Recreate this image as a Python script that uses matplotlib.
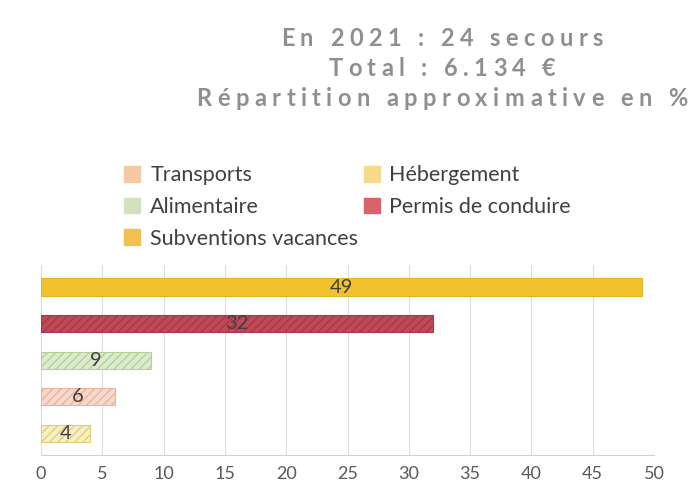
import matplotlib.pyplot as plt
from matplotlib.patches import Patch

# data, bottom bar first
categories = ["Hébergement", "Transports", "Alimentaire", "Permis de conduire", "Subventions vacances"]
values = [4, 6, 9, 32, 49]
colors = ["#f6efc6", "#f7d9cc", "#dcebcd", "#bd4a55", "#f2c12e"]
hatch_colors = ["#e3cf7a", "#eab3a0", "#b5d09a", "#a8394a", "#e6b322"]
hatches = ["////", "////", "////", "////", ""]

legend_order = ["Transports", "Alimentaire", "Subventions vacances", "Hébergement", "Permis de conduire"]
legend_colors = {"Transports": "#f5c9a4", "Hébergement": "#f7d98a", "Alimentaire": "#cfe3bd",
                 "Permis de conduire": "#d9636b", "Subventions vacances": "#f0c050"}

title_lines = ["En 2021 : 24 secours", "Total : 6.134 €", "Répartition approximative en %"]
xticks = [0, 5, 10, 15, 20, 25, 30, 35, 40, 45, 50]

plt.rcParams['font.family'] = ['Lato', 'DejaVu Sans']

fig = plt.figure(figsize=(6.95, 4.91), dpi=100)
ax = fig.add_axes([0.059, 0.073, 0.882, 0.387])
renderer = fig.canvas.get_renderer()


def spaced_text(s, xc, yc, spacing, **kw):
    # draw a line of text letter by letter with extra spacing (px), centred on xc (px)
    widths = []
    for ch in s:
        if ch == " ":
            widths.append(kw["fontsize"] * 0.32)
            continue
        t = fig.text(0, 0, ch, **kw)
        widths.append(t.get_window_extent(renderer).width)
        t.remove()
    total = sum(widths) + spacing * (len(s) - 1)
    x = xc - total / 2
    W, H = fig.bbox.width, fig.bbox.height
    for ch, w in zip(s, widths):
        if ch != " ":
            fig.text(x / W, 1 - yc / H, ch, ha='left', va='center', **kw)
        x += w + spacing


bars = ax.barh(range(len(values)), values, height=0.47, color=colors, zorder=3)
for b, hc, h in zip(bars, hatch_colors, hatches):
    b.set_edgecolor(hc)
    b.set_hatch(h)
    b.set_linewidth(0.8)

for y, v in enumerate(values):
    ax.text(v / 2, y, str(v), ha='center', va='center', fontsize=14.5,
            color='#404040', zorder=4)

ax.set_xlim(0, 50)
ax.set_ylim(-0.6, 4.6)
ax.set_xticks(xticks)
ax.set_xticklabels([str(t) for t in xticks], fontsize=13, color='#595959')
ax.set_yticks([])
ax.tick_params(axis='x', length=0, pad=8)
ax.grid(axis='x', color='#dcdcdc', linewidth=0.8, zorder=0)
for s in ['top', 'right', 'left']:
    ax.spines[s].set_visible(False)
ax.spines['bottom'].set_color('#d0d0d0')

# title, letter spaced like the original
for i, line in enumerate(title_lines):
    spaced_text(line, 442, 38 + 30 * i, 5.5, fontsize=17, fontweight='bold', color='#8f8f8f')

handles = [Patch(facecolor=legend_colors[n], edgecolor=legend_colors[n], label=n) for n in legend_order]
fig.legend(handles=handles, ncol=2, loc='upper left', bbox_to_anchor=(0.151, 0.703),
           frameon=False, fontsize=15.5, labelcolor='#404040', handlelength=0.75,
           handleheight=0.75, handletextpad=0.45, columnspacing=0.25, labelspacing=0.55)

fig.savefig("out.png", dpi=100)
